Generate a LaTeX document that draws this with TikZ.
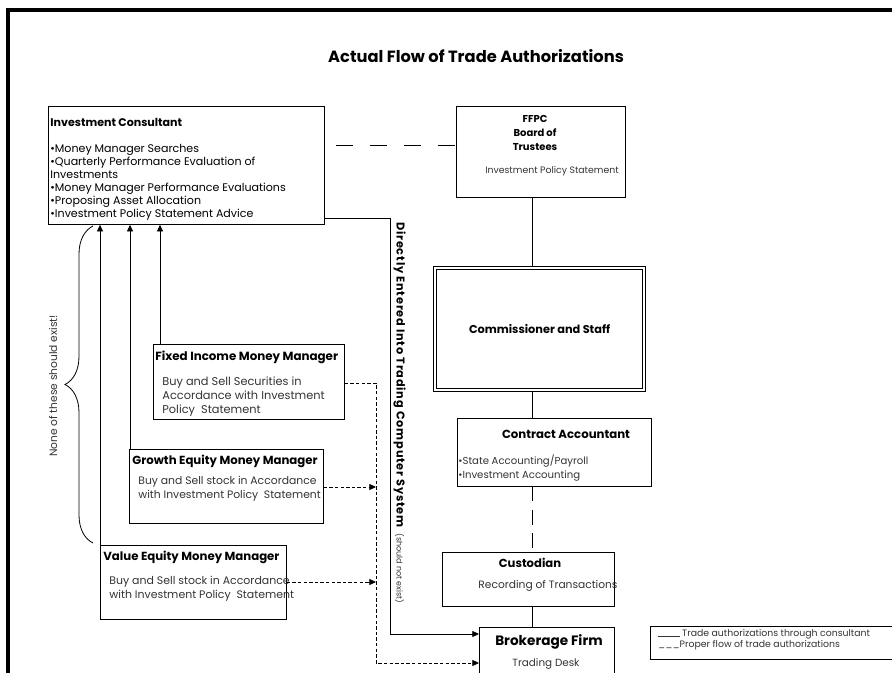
\documentclass[tikz,border=0pt]{standalone}
\usepackage{fontspec}
\setmainfont{Poppins}
\usepackage{xcolor}
\usepackage{tikz}
\usetikzlibrary{arrows.meta}
\usetikzlibrary{decorations.pathreplacing}
\newcommand{\sz}[2]{\fontsize{#1}{#2}\selectfont}
\newcommand{\soft}{\color{black!80}}

\begin{document}
\begin{tikzpicture}[x=0.75pt, y=-0.75pt, line width=0.6pt,
    box/.style 2 args={draw, rectangle, anchor=north west, inner sep=0pt,
      minimum width=#1*0.75pt, minimum height=#2*0.75pt},
    txt/.style={inner sep=0pt, align=left},
    tip/.style={-{Triangle[length=5pt, width=4.5pt]}},
    fine/.style={dash pattern=on 2.6pt off 1.6pt}]
    \useasboundingbox (0,0) rectangle (892,673);
    \draw[line width=3pt] (8,700) -- (8,10) -- (900,10);
    \node[inner sep=0pt, font=\sz{12.2}{14}\bfseries] (heading) at (476,56) {Actual Flow of Trade Authorizations};

    % boxes
    \node[box={276}{118}] (consult) at (48,106) {};
    \node[box={169}{91}] (ffpc) at (456,106) {};
    \node[box={209}{122}, double, double distance=1.4pt, line width=0.9pt] (comm) at (434.5,267.5) {};
    \node[box={194}{68}] (acct) at (457,418) {};
    \node[box={172}{54}] (cust) at (442,552) {};
    \node[box={135}{46}] (broker) at (479,627) {};
    \node[box={191}{75}] (fixed) at (153,344) {};
    \node[box={194}{74}] (growth) at (129,449) {};
    \node[box={186}{74}] (value) at (100,545) {};
    \node[box={260}{33}] (legend) at (650,626) {};

    \node[txt, anchor=north west, font=\sz{8.3}{9.75}] (consulttext) at (50,118)
      {{\bfseries Investment Consultant}\\[10pt]
       •Money Manager Searches\\
       •Quarterly Performance Evaluation of\\
       Investments\\
       •Money Manager Performance Evaluations\\
       •Proposing Asset Allocation\\
       •Investment Policy Statement Advice};
    \node[txt, anchor=north, align=center, font=\sz{7.5}{10.5}\bfseries] (ffpctitle) at (535,115)
      {FFPC\\Board of\\Trustees};
    \node[inner sep=0pt, font=\sz{7}{9}\soft] (ffpctext) at (552,171) {Investment Policy Statement};
    \node[inner sep=0pt, font=\sz{8.5}{10}\bfseries] (commtext) at (comm) {Commissioner and Staff};
    \node[inner sep=0pt, font=\sz{8.8}{10}\bfseries] (accttitle) at (566,434) {Contract Accountant};
    \node[txt, anchor=north west, font=\sz{7.6}{10.5}\soft] (accttext) at (458,455)
      {•State Accounting/Payroll\\•Investment Accounting};
    \node[inner sep=0pt, font=\sz{8.7}{10}\bfseries] (custtitle) at (530,563) {Custodian};
    \node[inner sep=0pt, font=\sz{8}{9}\soft] (custtext) at (548,586) {Recording of Transactions};
    \node[inner sep=0pt, font=\sz{10.2}{11}\bfseries] (brokertitle) at (549,642) {Brokerage Firm};
    \node[inner sep=0pt, font=\sz{7.8}{9}\soft] (brokertext) at (546,664) {Trading Desk};
    \node[txt, anchor=north west, font=\sz{8.9}{10}\bfseries] (fixedtitle) at (155,351) {Fixed Income Money Manager};
    \node[txt, anchor=north west, font=\sz{8.5}{10.5}\soft] (fixedtext) at (162,376)
      {Buy and Sell Securities in\\Accordance with Investment\\Policy\ \ Statement};
    \node[txt, anchor=north west, font=\sz{8.8}{10}\bfseries] (growthtitle) at (132,455) {Growth Equity Money Manager};
    \node[txt, anchor=north west, font=\sz{8.1}{10.5}\soft] (growthtext) at (138,476)
      {Buy and Sell stock in Accordance\\with Investment Policy\ \ Statement};
    \node[txt, anchor=north west, font=\sz{8.8}{10}\bfseries] (valuetitle) at (103,551) {Value Equity Money Manager};
    \node[txt, anchor=north west, font=\sz{8.2}{10}\soft] (valuetext) at (109,576)
      {Buy and Sell stock in Accordance\\with Investment Policy\ \ Statement};
    \node[txt, anchor=north west, font=\sz{7}{6.8}\soft] (legendtext) at (658,629)
      {\rule{16pt}{0.45pt} Trade authorizations through consultant\\
       \makebox[16pt][s]{\_\hfill\_\hfill\_}Proper flow of trade authorizations};
    \node[inner sep=0pt, rotate=-90, anchor=south west, font=\sz{8.5}{10}] (systemtext) at (393,222)
      {{\bfseries\addfontfeatures{LetterSpace=7}Directly Entered Into Trading Computer System}\ \ {\sz{6}{7}\soft(should not exist)}};
    \node[inner sep=0pt, rotate=90, font=\sz{8}{9}\soft] (bracetext) at (53,386) {None of these should exist!};

    % spine and connectors
    \coordinate (spine) at (532,0);
    \coordinate (solidbend) at (390,218);
    \coordinate (dashbend) at (376,383);
    \draw[dash pattern=on 12.5pt off 13pt, dash phase=17pt] (consult.east |- 0,145) -- (ffpc.west |- 0,145);
    \draw (ffpc.south -| spine) -- (comm.north -| spine);
    \draw (comm.south -| spine) -- (acct.north -| spine);
    \draw[dash pattern=on 11pt off 6.5pt] (acct.south -| spine) -- (cust.north -| spine);
    \draw (cust.south -| spine) -- (broker.north -| spine);
    \draw[tip] (value.north west) -- (value.north west |- consult.south);
    \draw[tip] ([xshift=0.75pt]growth.north west) -- ([xshift=0.75pt]growth.north west |- consult.south);
    \draw[tip] ([xshift=5.25pt]fixed.north west) -- ([xshift=5.25pt]fixed.north west |- consult.south);
    \draw[tip] (consult.east |- solidbend) -- (solidbend) -- (solidbend |- 0,634) -- (broker.west |- 0,634);
    \draw[fine, tip] (fixed.east |- dashbend) -- (dashbend) -- (dashbend |- 0,663) -- (broker.west |- 0,663);
    \draw[fine, tip] (growth.east |- 0,487) -- (dashbend |- 0,487);
    \draw[fine, tip] (value.east |- 0,582) -- (dashbend |- 0,582);
    \draw[decorate, decoration={brace, amplitude=21pt}] (93,543) -- (93,226);
  \end{tikzpicture}
\end{document}
